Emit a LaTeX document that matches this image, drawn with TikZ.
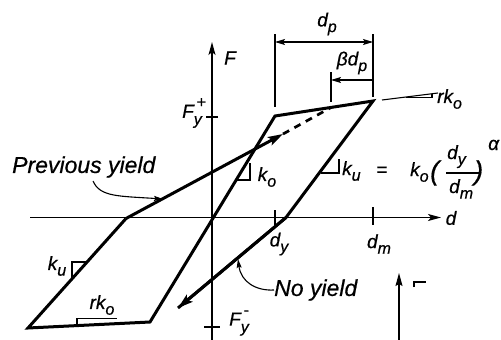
\documentclass[tikz,border=0pt]{standalone}
\usepackage{fontspec}
\setmainfont{Liberation Sans}
\newfontfamily\heavy{Liberation Sans}[FakeBold=0.6]
\usetikzlibrary{arrows.meta}
\newcommand\lsub[1]{\raisebox{-0.3em}{\fontsize{16}{16}\selectfont #1}}
\newcommand\supsub[2]{\makebox[0pt][l]{\raisebox{0.55em}{\fontsize{16}{16}\selectfont\,#1}}\raisebox{-0.35em}{\fontsize{16}{16}\selectfont #2}}
\tikzset{
  lbl/.style={inner sep=0pt, font=\heavy\fontsize{19}{19}\selectfont\itshape},
  paren/.style={inner sep=0pt, font=\heavy\fontsize{27}{27}\selectfont\itshape},
  big/.style={inner sep=0pt, font=\heavy\fontsize{23}{23}\selectfont\itshape},
  loopline/.style={line width=3pt, line join=miter, line cap=butt},
  axis/.style={line width=1.2pt, -{Stealth[length=13pt,width=7pt,inset=3pt]}},
  thin/.style={line width=1.1pt},
  marker/.style={line width=1.1pt},
  dimarrow/.style={line width=1.1pt},
  dimtip/.tip={Stealth[length=10pt,width=6pt,inset=2pt]},
  bigtip/.tip={Stealth[length=15pt,width=9pt,inset=3pt]},
  leader/.style={line width=1.1pt, -{Stealth[length=9pt,width=5pt,inset=1.5pt]}},
}
\begin{document}
\begin{tikzpicture}[x=1pt,y=-1pt]
\useasboundingbox (0,0) rectangle (501,340);
% key points
\coordinate (O) at (212,217.5);
\coordinate (A) at (275,116);
\coordinate (P) at (373,101);
\coordinate (B) at (150,322);
\coordinate (C) at (28,328);
\coordinate (D) at (126,218.5);
\coordinate (E) at (283,134);
\coordinate (Q) at (331,107.5);
\coordinate (G) at (286,217.5);
\coordinate (H) at (178,308);
% axes
\coordinate (Fbot) at (212,340);
\coordinate (Ftop) at (212,42);
\coordinate (dleft) at (30,217.5);
\coordinate (dright) at (441,217.5);
\draw[axis] (Fbot) -- (Ftop);
\draw[axis] (dleft) -- (dright);
% ticks
\draw[thin] (206,117) -- (218,117);
\draw[thin] (204,327) -- (220,327);
\draw[thin] (275,210) -- (275,225);
\draw[thin] (373,207) -- (373,225);
% loop
\draw[loopline] (D) -- (C) -- (B) -- (A) -- (P) -- (G) -- (H);
\draw[loopline, -{bigtip}] (G) -- (H);
\draw[loopline, -{bigtip}] (D) -- (E);
\draw[line width=2.7pt, dash pattern=on 7pt off 6pt] (E) -- (Q);
% post-yield slope line
\coordinate (r1) at (382,100);
\coordinate (r2) at (438,93);
\draw[thin] (r1) -- (r2);
\draw[marker] (406,97.1) -- (432,97.1) -- (432,94);
% slope markers
\draw[marker] (87,262) -- (72,262) -- (72,278.8);
\draw[marker] (77,325.6) -- (77,318.5) -- (117,318.5);
\draw[marker] (236,180) -- (250,180) -- (250,163);
\draw[marker] (321,173) -- (339,173) -- (339,159);
% dimension lines
\draw[thin] (275,34) -- (275,107);
\draw[thin] (373,34) -- (373,97);
\draw[thin] (331,72) -- (331,102);
\coordinate (dpL) at (275,42);
\coordinate (dpR) at (373,42);
\draw[dimarrow, {dimtip}-{dimtip}] (dpL) -- (dpR);
\coordinate (bdL) at (331,80);
\coordinate (bdR) at (373,80);
\draw[dimarrow, -{dimtip}] (bdR) -- (bdL);
% labels
\node[lbl] (Flab) at (230,58) {F};
\node[lbl] (Fyp) at (192,113) {F\supsub{+}{y}\hspace{8pt}};
\node[lbl] (Fym) at (239,323) {F\supsub{-}{y}\hspace{8pt}};
\node[lbl] (dlab) at (451,218) {d};
\node[lbl] (dylab) at (279,244) {d\lsub{y}};
\node[lbl] (dmlab) at (379,244) {d\lsub{m}};
\node[lbl] (dplab) at (327,24) {d\lsub{p}};
\node[lbl] (bdplab) at (352,63) {βd\lsub{p}};
\node[lbl, anchor=west] (rkotop) at (437,99) {rk\lsub{o}};
\node[lbl] (rkobot) at (102,305) {rk\lsub{o}};
\node[lbl] (kubot) at (57,266) {k\lsub{u}};
\node[lbl] (kolab) at (267,177) {k\lsub{o}};
% equation
\node[lbl, anchor=base west] (eqku) at (342,175) {k\lsub{u}};
\node[lbl, anchor=base west] (eqeq) at (376,176) {=};
\node[lbl, anchor=base west] (eqko) at (410,176) {k\lsub{o}};
\node[paren, anchor=base west] (eqlp) at (430,180) {(};
\node[lbl, anchor=base west] (eqnum) at (447,159) {d\lsub{y}};
\node[lbl, anchor=base west] (eqden) at (449,193) {d\lsub{m}};
\draw[line width=1.1pt] (446,173) -- (479,173);
\node[paren, anchor=base west] (eqrp) at (474,180) {)};
\node[lbl, anchor=base west] (eqal) at (488,150) {α};
% big labels and leaders
\node[big, anchor=west] (prev) at (12,167) {Previous yield};
\node[big, anchor=west] (noy) at (274,290) {No yield};
\coordinate (prevend) at (163,199);
\coordinate (noyend) at (238,259);
\draw[leader] (93,181) .. controls (100,197) and (118,196) .. (prevend);
\draw[leader] (noy.west) .. controls (256,291) and (241,282) .. (noyend);
% bottom arrow and fragment
\coordinate (ba1) at (399,340);
\coordinate (ba2) at (399,273);
\draw[line width=1.2pt, -{Stealth[length=13pt,width=7pt,inset=2pt]}] (ba1) -- (ba2);
\draw[line width=2pt] (414,287) -- (414,281.5) -- (426,281.5);
\end{tikzpicture}
\end{document}
